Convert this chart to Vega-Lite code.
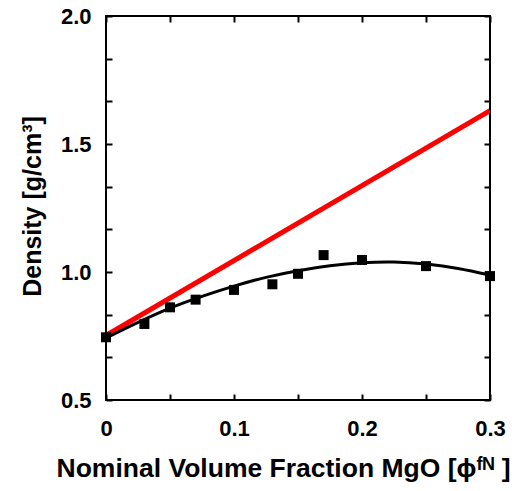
{
  "$schema": "https://vega.github.io/schema/vega-lite/v6.json",
  "width": 384,
  "height": 384,
  "autosize": "none",
  "padding": {"left": 106, "top": 16, "right": 24, "bottom": 91},
  "background": "white",
  "config": {
    "view": {"stroke": "black", "strokeWidth": 2},
    "font": "Liberation Sans",
    "axis": {"grid": false, "domain": false, "tickColor": "black", "tickWidth": 2, "tickSize": -6,
      "labelFont": "Liberation Sans", "labelFontWeight": "bold", "labelFontSize": 22, "labelColor": "black",
      "titleFont": "Liberation Sans", "titleFontWeight": "bold", "titleFontSize": 25, "titleColor": "black"}
  },
  "datasets": {
    "measured": [
      {"phi": 0.0, "density": 0.745},
      {"phi": 0.03, "density": 0.797},
      {"phi": 0.05, "density": 0.862},
      {"phi": 0.07, "density": 0.892},
      {"phi": 0.10, "density": 0.930},
      {"phi": 0.13, "density": 0.952},
      {"phi": 0.15, "density": 0.993},
      {"phi": 0.17, "density": 1.066},
      {"phi": 0.20, "density": 1.047},
      {"phi": 0.25, "density": 1.023},
      {"phi": 0.30, "density": 0.984}
    ],
    "fit": [
      {"phi": 0.0, "density": 0.742},
      {"phi": 0.025, "density": 0.803},
      {"phi": 0.05, "density": 0.859},
      {"phi": 0.075, "density": 0.905},
      {"phi": 0.1, "density": 0.945},
      {"phi": 0.125, "density": 0.979},
      {"phi": 0.15, "density": 1.005},
      {"phi": 0.175, "density": 1.024},
      {"phi": 0.2, "density": 1.036},
      {"phi": 0.225, "density": 1.039},
      {"phi": 0.25, "density": 1.031},
      {"phi": 0.275, "density": 1.014},
      {"phi": 0.3, "density": 0.988}
    ],
    "mixture": [
      {"phi": 0.0, "density": 0.752},
      {"phi": 0.3, "density": 1.63}
    ]
  },
  "layer": [
    {
      "data": {"name": "mixture"},
      "mark": {"type": "line", "color": "#ff0000", "strokeWidth": 5, "clip": true},
      "encoding": {
        "x": {"field": "phi", "type": "quantitative",
          "scale": {"domain": [0, 0.3], "nice": false, "zero": false},
          "axis": {"orient": "bottom", "values": [0, 0.05, 0.1, 0.15, 0.2, 0.25, 0.3],
            "labelExpr": "abs(datum.value*10 - round(datum.value*10)) < 0.01 ? (datum.value == 0 ? '0' : format(datum.value, '.1f')) : ''",
            "labelPadding": 24, "labelFlush": false, "labelOverlap": false,
            "title": "Nominal Volume Fraction MgO [ϕᶠᴺ ]", "titleFontSize": 26.5, "titleBaseline": "alphabetic", "titleX": 177, "titleY": 76}},
        "y": {"field": "density", "type": "quantitative",
          "scale": {"domain": [0.5, 2.0], "nice": false, "zero": false},
          "axis": {"orient": "left", "values": [0.5, 0.6667, 0.8333, 1.0, 1.1667, 1.3333, 1.5, 1.6667, 1.8333, 2.0],
            "labelExpr": "abs(datum.value*2 - round(datum.value*2)) < 0.01 ? format(datum.value, '.1f') : ''",
            "labelPadding": 21, "labelFlush": false, "labelOverlap": false,
            "title": "Density [g/cm³]", "titleBaseline": "alphabetic", "titleX": -66, "titleY": 190}}
      }
    },
    {
      "data": {"name": "fit"},
      "mark": {"type": "line", "color": "black", "strokeWidth": 3, "interpolate": "natural"},
      "encoding": {
        "x": {"field": "phi", "type": "quantitative",
          "axis": {"orient": "top", "values": [0, 0.05, 0.1, 0.15, 0.2, 0.25, 0.3], "labels": false, "title": null}},
        "y": {"field": "density", "type": "quantitative",
          "axis": {"orient": "right", "values": [0.5, 0.6667, 0.8333, 1.0, 1.1667, 1.3333, 1.5, 1.6667, 1.8333, 2.0], "labels": false, "title": null}}
      }
    },
    {
      "data": {"name": "measured"},
      "mark": {"type": "point", "shape": "square", "filled": true, "color": "black", "size": 100, "opacity": 1},
      "encoding": {
        "x": {"field": "phi", "type": "quantitative", "axis": null},
        "y": {"field": "density", "type": "quantitative", "axis": null}
      }
    }
  ],
  "resolve": {"axis": {"x": "independent", "y": "independent"}}
}
